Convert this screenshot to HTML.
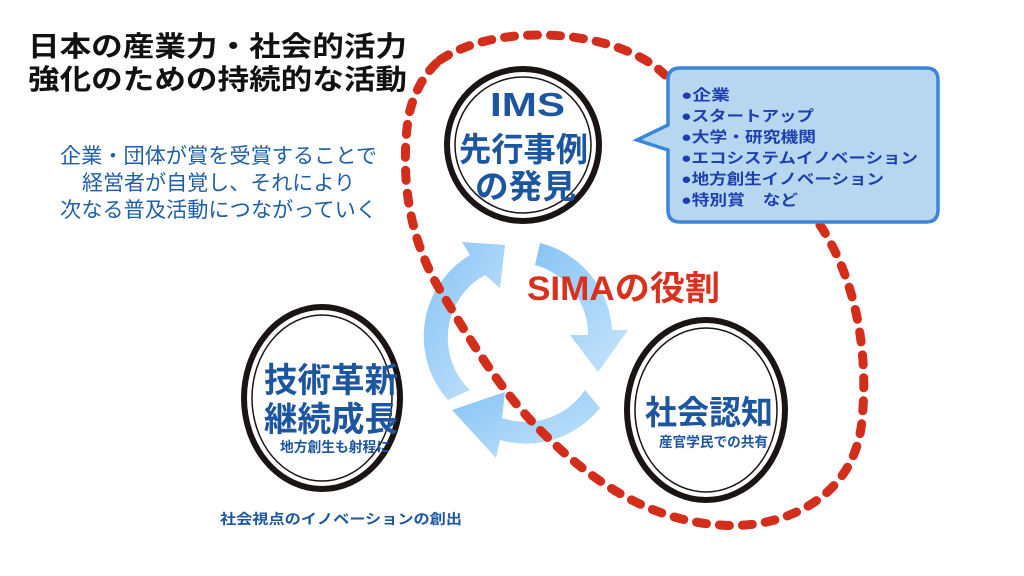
<!DOCTYPE html>
<html><head><meta charset="utf-8"><style>
html,body{margin:0;padding:0;background:#fff;width:1024px;height:576px;overflow:hidden}
svg text{font-family:"Liberation Sans","Noto Sans CJK JP",sans-serif}
</style></head><body>
<svg width="1024" height="576" viewBox="0 0 1024 576" xmlns="http://www.w3.org/2000/svg">
<defs>
<linearGradient id="g1" x1="0" y1="0" x2="1" y2="1"><stop offset="0" stop-color="#86c4f5"/><stop offset="1" stop-color="#c8e4fb"/></linearGradient>
</defs>
<text x="28" y="56" font-size="28" font-weight="bold" fill="#111" textLength="379" lengthAdjust="spacingAndGlyphs">日本の産業力・社会的活力</text>
<text x="28" y="89" font-size="28" font-weight="bold" fill="#111" textLength="379" lengthAdjust="spacingAndGlyphs">強化のための持続的な活動</text>
<g font-size="21" fill="#1f5fa8">
<text x="60" y="163" textLength="317" lengthAdjust="spacingAndGlyphs">企業・団体が賞を受賞することで</text>
<text x="82" y="190" textLength="273" lengthAdjust="spacingAndGlyphs">経営者が自覚し、それにより</text>
<text x="60" y="217" textLength="317" lengthAdjust="spacingAndGlyphs">次なる普及活動につながっていく</text>
</g>
<g fill="url(#g1)">
<path d="M470 255 A95 95 0 0 0 448 400 L470 390 A72 72 0 0 1 485 275 L500 288 L505 245 L462 242 Z"/>
<path d="M540 243 A95 95 0 0 1 612 330 L628 330 L598 372 L570 335 L588 335 A72 72 0 0 0 535 265 Z"/>
<path d="M600 408 A95 95 0 0 1 500 440 L496 458 L452 410 L505 392 L502 418 A72 72 0 0 0 585 390 Z"/>
</g>
<path d="M440 60 C500 20 620 30 665 75 M820 225 C850 270 870 340 862 420 C855 500 780 530 720 525 C640 520 580 470 540 430 C500 390 470 340 440 290 C410 240 400 180 408 120 C412 95 425 72 440 60" fill="none" stroke="#d32e1c" stroke-width="9" stroke-dasharray="10 13" stroke-linecap="round"/>
<path d="M680 68 H926 Q938 68 938 80 V210 Q938 222 926 222 H680 Q668 222 668 210 V150 L637 140 L668 125 V80 Q668 68 680 68 Z" fill="#b7d7f0" stroke="#3a86d8" stroke-width="3.5"/>
<g font-size="15" font-weight="bold" fill="#1f3fae">
<text x="681" y="100" textLength="49" lengthAdjust="spacingAndGlyphs">●企業</text>
<text x="681" y="121" textLength="133" lengthAdjust="spacingAndGlyphs">●スタートアップ</text>
<text x="681" y="142" textLength="135" lengthAdjust="spacingAndGlyphs">●大学・研究機関</text>
<text x="681" y="163" textLength="237" lengthAdjust="spacingAndGlyphs">●エコシステムイノベーション</text>
<text x="681" y="184" textLength="203" lengthAdjust="spacingAndGlyphs">●地方創生イノベーション</text>
<text x="681" y="205" textLength="117" lengthAdjust="spacingAndGlyphs">●特別賞　など</text>
</g>
<g fill="#fff" stroke="#1a1414">
<circle cx="523" cy="145" r="76" stroke-width="6"/>
<circle cx="523" cy="145" r="68" stroke-width="1.5" fill="none"/>
<ellipse cx="322" cy="398" rx="78" ry="91" stroke-width="6"/>
<ellipse cx="322" cy="398" rx="70" ry="83" stroke-width="1.5" fill="none"/>
<ellipse cx="706" cy="410" rx="79" ry="90" stroke-width="6"/>
<ellipse cx="706" cy="410" rx="71" ry="82" stroke-width="1.5" fill="none"/>
</g>
<g fill="#1d56a0" font-weight="bold">
<text x="490" y="116" font-size="33" textLength="75" lengthAdjust="spacingAndGlyphs">IMS</text>
<text x="459" y="161" font-size="33" textLength="129" lengthAdjust="spacingAndGlyphs">先行事例</text>
<text x="475" y="198" font-size="33" textLength="101" lengthAdjust="spacingAndGlyphs">の発見</text>
<text x="264" y="392" font-size="34" textLength="134" lengthAdjust="spacingAndGlyphs">技術革新</text>
<text x="264" y="431" font-size="34" textLength="134" lengthAdjust="spacingAndGlyphs">継続成長</text>
<text x="280" y="452" font-size="14" textLength="110" lengthAdjust="spacingAndGlyphs">地方創生も射程に</text>
<text x="645" y="424" font-size="33" textLength="128" lengthAdjust="spacingAndGlyphs">社会認知</text>
<text x="659" y="447" font-size="14" textLength="109" lengthAdjust="spacingAndGlyphs">産官学民での共有</text>
<text x="220" y="524" font-size="14" textLength="242" lengthAdjust="spacingAndGlyphs">社会視点のイノベーションの創出</text>
</g>
<text x="527" y="300" font-size="34" font-weight="bold" fill="#d8321f" textLength="193" lengthAdjust="spacingAndGlyphs">SIMAの役割</text>
</svg>
</body></html>
